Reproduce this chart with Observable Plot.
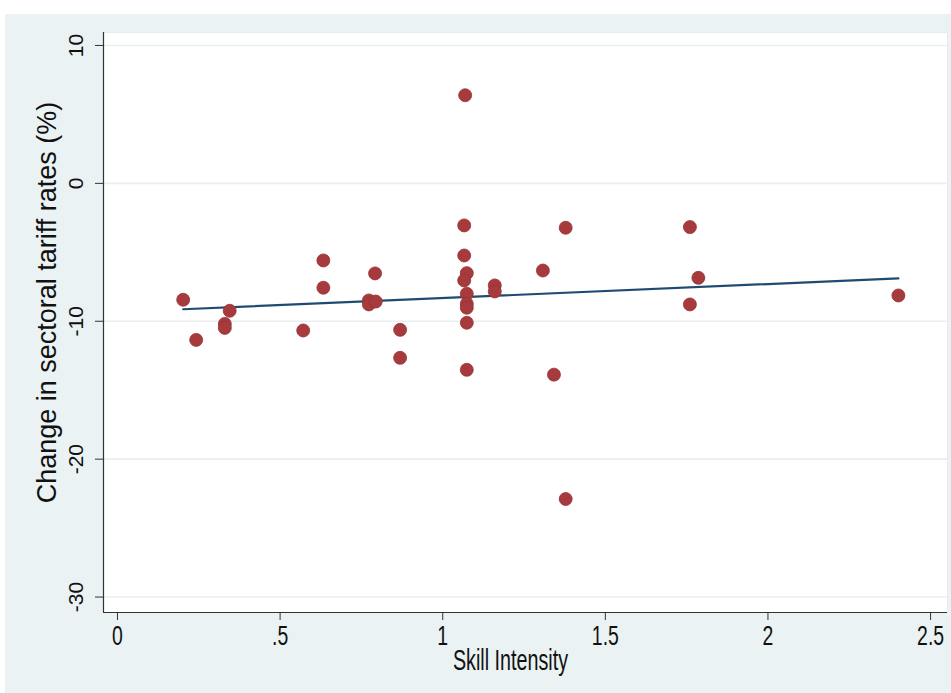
<!DOCTYPE html>
<html>
<head>
<meta charset="utf-8">
<script src="https://cdn.jsdelivr.net/npm/d3@7"></script>
<script src="https://cdn.jsdelivr.net/npm/@observablehq/plot@0.6"></script>
<style>
  html, body { margin: 0; padding: 0; background: #ffffff; }
  #wrap { position: absolute; left: 5px; top: 14px; }
</style>
</head>
<body>
<div id="wrap"></div>
<script>
// Skill intensity (x) and change in sectoral tariff rates, % (y)
const skill = [
  0.202, 0.242, 0.330, 0.330, 0.345, 0.571, 0.633, 0.633, 0.773, 0.773,
  0.794, 0.792, 0.869, 0.869, 1.069, 1.066, 1.066, 1.074, 1.066, 1.074,
  1.074, 1.074, 1.074, 1.074, 1.160, 1.160, 1.308, 1.342, 1.378, 1.378,
  1.760, 1.786, 1.760, 2.401
];
const tariffChange = [
  -8.44, -11.35, -10.19, -10.48, -9.24, -10.67, -5.59, -7.57, -8.49, -8.78,
  -8.57, -6.53, -10.62, -12.65, 6.39, -3.05, -5.23, -6.51, -7.04, -8.01,
  -8.73, -9.02, -10.11, -13.52, -7.40, -7.84, -6.32, -13.87, -3.22, -22.89,
  -3.17, -6.85, -8.78, -8.13
];
const xTicks = [0, 0.5, 1, 1.5, 2, 2.5];
const xTickLabels = ["0", ".5", "1", "1.5", "2", "2.5"];
const yTicks = [10, 0, -10, -20, -30];
const yTickLabels = ["10", "0", "-10", "-20", "-30"];
const xTitle = "Skill Intensity";
const yTitle = "Change in sectoral tariff rates (%)";

const points = skill.map((s, i) => ({skill: s, change: tariffChange[i]}));
const xDomain = [-0.043, 2.552];
const yDomain = [-31.12, 10.94];

const chart = Plot.plot({
  width: 946,
  height: 679,
  marginLeft: 98,
  marginRight: 4,
  marginTop: 18,
  marginBottom: 81,
  style: {background: "#eaf2f3", fontFamily: "'Liberation Sans', Arial, sans-serif", color: "#222"},
  x: {domain: xDomain},
  y: {domain: yDomain},
  marks: [
    Plot.frame({fill: "white", stroke: "#e4ecee", strokeWidth: 1}),
    Plot.gridY(yTicks, {stroke: "#e9eef0", strokeOpacity: 1, strokeWidth: 1.6}),
    Plot.ruleX([xDomain[0]], {stroke: "#333", strokeWidth: 1.2}),
    Plot.ruleY([yDomain[0]], {stroke: "#333", strokeWidth: 1.2}),
    Plot.axisX(xTicks, {
      tickSize: 8, tickPadding: 5, stroke: "#333",
      tickFormat: (d) => xTickLabels[xTicks.indexOf(d)],
      fontSize: 27, fill: "#111", label: null
    }),
    Plot.axisY(yTicks, {
      tickSize: 8, stroke: "#333", tickFormat: () => "", label: null
    }),
    Plot.text(yTicks, {
      y: (d) => d, text: (d) => yTickLabels[yTicks.indexOf(d)],
      frameAnchor: "left", dx: -27, rotate: -90, fontSize: 21, fill: "#111",
      textAnchor: "middle"
    }),
    Plot.text([yTitle], {
      frameAnchor: "left", dx: -56, dy: -20, rotate: -90, fontSize: 27,
      fill: "#111", textAnchor: "middle"
    }),
    Plot.text([xTitle], {
      frameAnchor: "bottom", dx: -15, dy: 57, fontSize: 29, fill: "#111"
    }),
    Plot.linearRegressionY(points, {
      x: "skill", y: "change", ci: 0, stroke: "#1f4b73", strokeWidth: 2.2
    }),
    Plot.dot(points, {
      x: "skill", y: "change", r: 6.5, fill: "#a63a3c", stroke: "#983236", strokeWidth: 0.8
    })
  ]
});

document.getElementById("wrap").appendChild(chart);

// Horizontal texts in the reference are condensed
chart.querySelectorAll("text").forEach((t) => {
  const isXTick = t.closest('g[aria-label="x-axis tick label"]') !== null;
  const isXTitle = t.textContent === xTitle;
  if (isXTick || isXTitle) {
    const len = t.getComputedTextLength();
    t.setAttribute("textLength", (len * (isXTitle ? 0.68 : 0.72)).toFixed(1));
    t.setAttribute("lengthAdjust", "spacingAndGlyphs");
  }
});
</script>
</body>
</html>
